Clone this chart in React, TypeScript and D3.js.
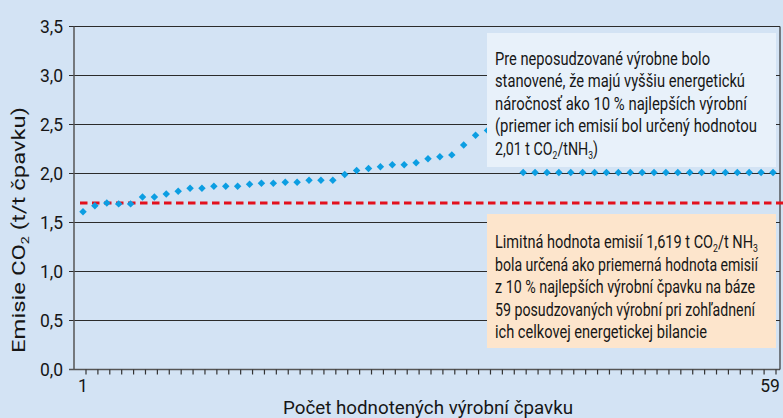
import React from "react";
import * as d3 from "d3";

// emission per plant, sorted (t CO2 / t NH3)
const plantEmissions = [
  1.61, 1.67, 1.7, 1.69, 1.69, 1.76, 1.76, 1.79, 1.82, 1.85,
  1.85, 1.87, 1.87, 1.87, 1.89, 1.9, 1.9, 1.91, 1.91, 1.93,
  1.93, 1.93, 1.99, 2.03, 2.05, 2.07, 2.09, 2.09, 2.11, 2.15,
  2.17, 2.19, 2.29, 2.39, 2.44, 2.49, 2.54, 2.01, 2.01, 2.01,
  2.01, 2.01, 2.01, 2.01, 2.01, 2.01, 2.01, 2.01, 2.01, 2.01,
  2.01, 2.01, 2.01, 2.01, 2.01, 2.01, 2.01, 2.01, 2.01,
];
const limitValue = 1.7;
const yTickValues = [0, 0.5, 1, 1.5, 2, 2.5, 3, 3.5];
const xTickLabels = [1, 59];

const upperNote = [
  "Pre neposudzované výrobne bolo",
  "stanovené, že majú vyššiu energetickú",
  "náročnosť ako 10 % najlepších výrobní",
  "(priemer ich emisií bol určený hodnotou",
  "2,01 t CO_2/tNH_3)",
];
const lowerNote = [
  "Limitná hodnota emisií 1,619 t CO_2/t NH_3",
  "bola určená ako priemerná hodnota emisií",
  "z 10 % najlepších výrobní čpavku na báze",
  "59 posudzovaných výrobní pri zohľadnení",
  "ich celkovej energetickej bilancie",
];

const W = 783;
const H = 418;
const FONT = "Roboto, 'Open Sans', sans-serif";

// "_2" -> subscript 2
const renderSub = (s: string, size: number) => {
  const parts = s.split(/_(\d)/);
  const out: any[] = [];
  let shifted = false;
  parts.forEach((p, i) => {
    if (p === "") return;
    if (i % 2 === 1) {
      out.push(
        <tspan key={i} fontSize={size * 0.6} dy={4}>
          {p}
        </tspan>
      );
      shifted = true;
    } else {
      out.push(
        <tspan key={i} dy={shifted ? -4 : 0}>
          {p}
        </tspan>
      );
      shifted = false;
    }
  });
  return out;
};

const NoteBox = ({ x, y, w, h, fill, lines, widths, baseline }) => (
  <g>
    <rect x={x} y={y} width={w} height={h} fill={fill} />
    {lines.map((l, i) => (
      <text
        key={i}
        x={x + 8}
        y={baseline + i * 22.5}
        fontSize={18.5}
        fill="#161616"
        textLength={widths[i]}
        lengthAdjust="spacingAndGlyphs"
      >
        {renderSub(l, 18.5)}
      </text>
    ))}
  </g>
);

export default function App() {
  const left = 74;
  const right = 780;
  const top = 26.5;
  const bottom = 369.5;

  const x = d3.scaleLinear().domain([1, 59]).range([83, 773]);
  const y = d3.scaleLinear().domain([0, 3.5]).range([bottom, top]);
  const fmt = (v: number) => d3.format(".1f")(v).replace(".", ",");
  const diamond = d3.symbol().type(d3.symbolSquare).size(28)();

  return (
    <svg
      width={W}
      height={H}
      style={{ position: "absolute", left: 0, top: 0, display: "block" }}
      fontFamily={FONT}
    >
      <rect width={W} height={H} fill="#d3e3f4" />

      {/* grid + y ticks */}
      {yTickValues.map((v) => (
        <g key={v}>
          <line
            x1={left - 5}
            x2={right}
            y1={y(v)}
            y2={y(v)}
            stroke={v === 0 ? "#555" : "#2b2b2b"}
            strokeWidth={v === 0 ? 1.5 : 1.2}
          />
          <text
            x={63}
            y={y(v)}
            dy="0.35em"
            textAnchor="end"
            fontSize={17.5}
            fill="#161616"
          >
            {fmt(v)}
          </text>
        </g>
      ))}
      <line x1={left} x2={left} y1={top} y2={bottom} stroke="#555" strokeWidth={1.5} />
      <line x1={right} x2={right} y1={top} y2={bottom} stroke="#333" strokeWidth={1.2} />

      {/* x ticks */}
      {plantEmissions.map((_, i) => (
        <line
          key={i}
          x1={x(i + 1) + 3}
          x2={x(i + 1) + 3}
          y1={bottom}
          y2={bottom + 5}
          stroke="#333"
          strokeWidth={1.2}
        />
      ))}
      {xTickLabels.map((v) => (
        <text
          key={v}
          x={x(v) - (v === 59 ? 3 : 0)}
          y={392}
          textAnchor="middle"
          fontSize={17.5}
          fill="#161616"
        >
          {v}
        </text>
      ))}

      {/* limit line */}
      <line
        x1={x(1) - 3}
        x2={W}
        y1={y(limitValue)}
        y2={y(limitValue)}
        stroke="#e3101c"
        strokeWidth={3}
        strokeDasharray="7.5,4.5"
      />

      {/* plants */}
      {plantEmissions.map((v, i) => (
        <path
          key={i}
          d={diamond}
          transform={`translate(${x(i + 1)},${y(v)}) rotate(45)`}
          fill="#0c9ee2"
        />
      ))}

      <NoteBox
        x={487}
        y={33}
        w={289}
        h={134}
        fill="#e8f1fa"
        lines={upperNote}
        widths={[215, 250, 252, 262, 103]}
        baseline={64.5}
      />
      <NoteBox
        x={487}
        y={214}
        w={289}
        h={134}
        fill="#fde5cc"
        lines={lowerNote}
        widths={[263, 263, 260, 260, 212]}
        baseline={248}
      />

      {/* axis titles */}
      <text
        transform="translate(25,230) rotate(-90)"
        textAnchor="middle"
        fontSize={18}
        fill="#161616"
        textLength={246}
        lengthAdjust="spacingAndGlyphs"
      >
        {renderSub("Emisie CO_2 (t/t čpavku)", 18)}
      </text>
      <text
        x={428}
        y={414}
        textAnchor="middle"
        fontSize={18}
        fill="#161616"
        textLength={290}
        lengthAdjust="spacingAndGlyphs"
      >
        Počet hodnotených výrobní čpavku
      </text>
    </svg>
  );
}
